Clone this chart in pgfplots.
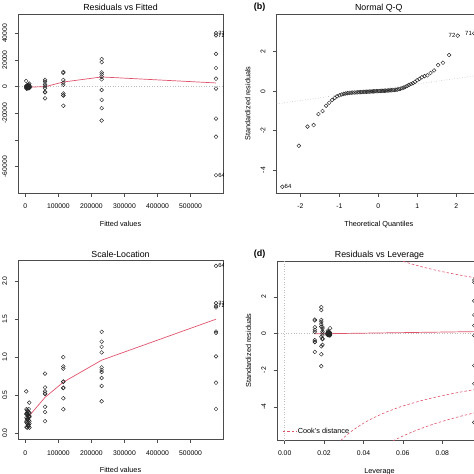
\documentclass[border=0pt]{standalone}
\usepackage{fontspec}
\setmainfont{Liberation Sans}
\usepackage{pgfplots}
\pgfplotsset{compat=1.18}
\definecolor{rred}{HTML}{DF536B}
\definecolor{rgray}{HTML}{BEBEBE}
\newcommand{\tickfont}{\fontsize{6.8}{7}\selectfont}
\newcommand{\labfont}{\fontsize{7.3}{8}\selectfont}
\newcommand{\titfont}{\fontsize{8.8}{9}\selectfont}
\newcommand{\ptfont}{\fontsize{6}{6}\selectfont}
\pgfplotsset{
  rdiag/.style={
    scale only axis, width=205pt, height=179.3pt, anchor=north west,
    scaled ticks=false,
    axis line style={line width=0.6pt, black!70},
    tick align=outside, major tick length=3.3pt,
    tick style={line width=0.5pt, black!70},
    xtick pos=bottom, ytick pos=left,
    /pgf/number format/assume math mode=true,
    xticklabel style={font=\tickfont, anchor=base, inner sep=0pt, yshift=-12.3pt},
    yticklabel style={font=\tickfont, inner sep=0pt, xshift=-7.65pt, rotate=90, anchor=base},
    every axis title/.style={font=\titfont, at={(0.5,1)}, anchor=base, yshift=3.3pt, inner sep=0pt},
    every axis x label/.style={at={(axis description cs:0.5,0)}, anchor=base, yshift=-33pt, font=\labfont, inner sep=0pt},
    every axis y label/.style={at={(axis description cs:-0.1268,0.5)}, rotate=90, anchor=base, font=\labfont, inner sep=0pt},
  },
  pts/.style={only marks, mark=o, mark size=1.9pt, mark options={line width=0.45pt, draw=black!85}, black!85},
  smo/.style={no marks, rred, line width=0.7pt},
  refl/.style={no marks, rgray, dotted, line width=0.6pt},
  cook/.style={no marks, rred, line width=0.6pt, dash pattern=on 2.5pt off 2pt, smooth},
}
\begin{document}
\begin{tikzpicture}
\useasboundingbox (0pt,0pt) rectangle (474pt,-474pt);
% ---------------- (a) Residuals vs Fitted
\begin{axis}[rdiag, at={(18pt,-14pt)},
  xmin=-22100, xmax=598200, ymin=-79950, ymax=54500,
  xtick={0,100000,200000,300000,400000,500000},
  xticklabels={0,100000,200000,300000,400000,500000},
  ytick={-60000,-40000,-20000,0,20000,40000},
  yticklabels={-60000,{},-20000,0,20000,40000},
  title={Residuals vs Fitted}, xlabel={Fitted values}]
\addplot[refl] coordinates {(-50000,0) (700000,0)};
\addplot[pts] coordinates {
(3500,-1426) (5700,-1283) (8000,-1141) (10300,-1070) (12600,-998)
(3500,-927) (5700,-856) (8000,-784) (10300,-713) (12600,-642)
(3500,-570) (5700,-513) (8000,-456) (10300,-399) (12600,-342)
(3500,-285) (5700,-228) (8000,-171) (10300,-114) (12600,-71)
(3500,86) (5700,71) (8000,114) (10300,171) (12600,228)
(3500,357) (5700,428) (8000,499) (10300,642) (12600,713)
(3500,856) (5700,998) (8000,1141) (10300,1426)
(2800,4280) (12000,2280)
(59700,5140) (59700,3800) (59700,1710) (59700,340) (59700,-1085) (59700,-3850) (59700,-4280) (59700,-8750)
(115000,11000) (115000,10300) (115000,5000) (115000,3000) (115000,1400) (115000,-5100) (115000,-6500) (115000,-6600) (115000,-14300)
(231000,20700) (231000,18400) (231000,10700) (231000,9250) (231000,7500) (231000,5500) (231000,-2500) (231000,-9900) (231000,-16100) (231000,-25400)
(577000,40100) (577000,38500) (577000,24600) (577000,14000) (577000,6000) (577000,-1400) (577000,-23900) (577000,-37500) (577000,-66400)
};
\addplot[smo] coordinates {(3500,-400) (5700,-380) (8000,-350) (10300,-320) (12600,-300) (59700,0) (115000,3500) (231000,7300) (577000,2800)};
\node[anchor=west, font=\ptfont, inner sep=0pt, xshift=2.2pt] at (axis cs:577000,40100) {71};
\node[anchor=west, font=\ptfont, inner sep=0pt, xshift=2.2pt] at (axis cs:577000,38500) {72};
\node[anchor=west, font=\ptfont, inner sep=0pt, xshift=2.2pt] at (axis cs:577000,-66400) {64};
\end{axis}
% ---------------- (b) Normal Q-Q
\begin{axis}[rdiag, at={(276.3pt,-14pt)},
  xmin=-2.615, xmax=2.641, ymin=-5.18, ymax=3.91,
  xtick={-2,-1,0,1,2}, xticklabels={-2,-1,0,1,2},
  ytick={-4,-2,0,2}, yticklabels={-4,-2,0,2},
  title={Normal Q-Q}, xlabel={Theoretical Quantiles}, ylabel={Standardized residuals}]
\addplot[refl] coordinates {(-3,-0.757) (3,0.923)};
\addplot[pts] coordinates {
(-2.460,-4.85) (-2.037,-2.77) (-1.815,-1.80) (-1.658,-1.72) (-1.534,-1.16) (-1.430,-1.01)
(-1.339,-0.74) (-1.258,-0.59) (-1.184,-0.45) (-1.117,-0.34) (-1.055,-0.26) (-0.996,-0.21)
(-0.940,-0.17) (-0.887,-0.14) (-0.837,-0.12) (-0.788,-0.10) (-0.742,-0.09) (-0.697,-0.08)
(-0.653,-0.075) (-0.610,-0.07) (-0.569,-0.065) (-0.528,-0.06) (-0.489,-0.055) (-0.450,-0.05)
(-0.412,-0.045) (-0.374,-0.04) (-0.337,-0.036) (-0.300,-0.032) (-0.264,-0.028) (-0.228,-0.024)
(-0.192,-0.02) (-0.157,-0.016) (-0.122,-0.012) (-0.087,-0.008) (-0.052,-0.004) (-0.017,0.0)
(0.017,0.004) (0.052,0.008) (0.087,0.012) (0.122,0.016) (0.157,0.02) (0.192,0.025)
(0.228,0.03) (0.264,0.035) (0.300,0.04) (0.337,0.045) (0.374,0.05) (0.412,0.06)
(0.450,0.07) (0.489,0.08) (0.528,0.10) (0.569,0.12) (0.610,0.15) (0.653,0.18)
(0.697,0.22) (0.742,0.27) (0.788,0.32) (0.837,0.36) (0.887,0.40) (0.940,0.47)
(0.996,0.55) (1.055,0.62) (1.117,0.70) (1.184,0.76) (1.258,0.80) (1.339,0.92)
(1.430,1.05) (1.534,1.32) (1.658,1.44) (1.815,1.83) (2.037,2.81) (2.460,2.93)
};
\node[anchor=west, font=\ptfont, inner sep=0pt, xshift=2.2pt] at (axis cs:-2.460,-4.85) {64};
\node[anchor=east, font=\ptfont, inner sep=0pt, xshift=-2.2pt] at (axis cs:2.037,2.81) {72};
\node[anchor=east, font=\ptfont, inner sep=0pt, xshift=-2.2pt] at (axis cs:2.460,2.93) {71};
\end{axis}
% ---------------- (c) Scale-Location
\begin{axis}[rdiag, at={(18pt,-260.3pt)},
  xmin=-22100, xmax=598200, ymin=-0.087, ymax=2.276,
  xtick={0,100000,200000,300000,400000,500000},
  xticklabels={0,100000,200000,300000,400000,500000},
  ytick={0,0.5,1,1.5,2}, yticklabels={0.0,0.5,1.0,1.5,2.0},
  title={Scale-Location}, xlabel={Fitted values}]
\addplot[pts] coordinates {
(3500,0.316) (5700,0.300) (8000,0.283) (10300,0.274) (12600,0.265)
(3500,0.255) (5700,0.245) (8000,0.235) (10300,0.224) (12600,0.212)
(3500,0.200) (5700,0.190) (8000,0.179) (10300,0.167) (12600,0.155)
(3500,0.141) (5700,0.126) (8000,0.110) (10300,0.089) (12600,0.071)
(3500,0.077) (5700,0.071) (8000,0.089) (10300,0.110) (12600,0.126)
(3500,0.158) (5700,0.173) (8000,0.187) (10300,0.212) (12600,0.224)
(3500,0.245) (5700,0.265) (8000,0.283) (10300,0.316)
(2800,0.548) (12000,0.400)
(59700,0.600) (59700,0.516) (59700,0.346) (59700,0.155) (59700,0.276) (59700,0.520) (59700,0.548) (59700,0.783)
(115000,0.877) (115000,0.848) (115000,0.591) (115000,0.458) (115000,0.313) (115000,0.597) (115000,0.674) (115000,0.679) (115000,1.000)
(231000,1.204) (231000,1.135) (231000,0.865) (231000,0.804) (231000,0.725) (231000,0.620) (231000,0.418) (231000,0.832) (231000,1.062) (231000,1.333)
(577000,1.712) (577000,1.676) (577000,1.338) (577000,1.010) (577000,0.663) (577000,0.316) (577000,1.319) (577000,1.655) (577000,2.202)
};
\addplot[smo] coordinates {(3500,0.21) (5700,0.215) (8000,0.22) (10300,0.225) (12600,0.23) (59700,0.47) (115000,0.67) (231000,0.96) (577000,1.50)};
\node[anchor=west, font=\ptfont, inner sep=0pt, xshift=2.2pt] at (axis cs:577000,2.202) {64};
\node[anchor=west, font=\ptfont, inner sep=0pt, xshift=2.2pt] at (axis cs:577000,1.712) {71};
\node[anchor=west, font=\ptfont, inner sep=0pt, xshift=2.2pt] at (axis cs:577000,1.676) {72};
\end{axis}
% ---------------- (d) Residuals vs Leverage
\begin{axis}[rdiag, at={(277pt,-261pt)},
  xmin=-0.0039, xmax=0.1002, ymin=-5.83, ymax=3.97,
  xtick={0,0.02,0.04,0.06,0.08,0.1}, xticklabels={0.00,0.02,0.04,0.06,0.08,{}},
  ytick={-4,-2,0,2}, yticklabels={-4,-2,0,2},
  title={Residuals vs Leverage}, xlabel={Leverage}, ylabel={Standardized residuals},
  legend style={at={(axis description cs:0,0)}, anchor=south west, draw=none, fill=none,
    font=\labfont, inner xsep=0pt, inner ysep=0pt, xshift=5pt, yshift=4.5pt,
    nodes={inner sep=1pt}},
  legend cell align=left,
  legend image code/.code={\draw[rred, line width=0.6pt, dash pattern=on 2.5pt off 2pt] (0pt,0pt) -- (14pt,0pt);}]
\addplot[refl, forget plot] coordinates {(-0.01,0) (0.12,0)};
\addplot[refl, forget plot] coordinates {(0,-7) (0,5)};
\addplot[pts, forget plot] coordinates {
(0.0230,-0.10) (0.0227,-0.09) (0.0224,-0.08) (0.0221,-0.075) (0.0218,-0.07)
(0.0230,-0.065) (0.0227,-0.06) (0.0224,-0.055) (0.0221,-0.05) (0.0218,-0.045)
(0.0230,-0.04) (0.0227,-0.036) (0.0224,-0.032) (0.0221,-0.028) (0.0218,-0.024)
(0.0230,-0.02) (0.0227,-0.016) (0.0224,-0.012) (0.0221,-0.008) (0.0218,-0.005)
(0.0230,0.006) (0.0227,0.005) (0.0224,0.008) (0.0221,0.012) (0.0218,0.016)
(0.0230,0.025) (0.0227,0.03) (0.0224,0.035) (0.0221,0.045) (0.0218,0.05)
(0.0230,0.06) (0.0227,0.07) (0.0224,0.08) (0.0221,0.10)
(0.0231,0.30) (0.0219,0.16)
(0.0192,0.36) (0.0192,0.266) (0.0192,0.12) (0.0192,0.024) (0.0192,-0.076) (0.0192,-0.27) (0.0192,-0.30) (0.0192,-0.613)
(0.0153,0.769) (0.0153,0.720) (0.0153,0.349) (0.0153,0.210) (0.0153,0.098) (0.0153,-0.356) (0.0153,-0.454) (0.0153,-0.461) (0.0153,-0.999)
(0.0186,1.449) (0.0186,1.288) (0.0186,0.749) (0.0186,0.647) (0.0186,0.525) (0.0186,0.385) (0.0186,-0.175) (0.0186,-0.693) (0.0186,-1.127) (0.0186,-1.777)
(0.0963,2.93) (0.0963,2.81) (0.0963,1.79) (0.0963,1.02) (0.0963,0.44) (0.0963,-0.10) (0.0963,-1.74) (0.0963,-2.74) (0.0963,-4.85)
};
\addplot[smo, forget plot] coordinates {(0.0153,0.0) (0.0186,-0.01) (0.0192,-0.01) (0.0218,0.0) (0.0231,0.0) (0.0963,0.11)};
\addplot[cook] coordinates {(0.027,-6.03) (0.028,-5.892) (0.030,-5.686) (0.032,-5.5) (0.035,-5.251) (0.040,-4.899) (0.045,-4.607) (0.050,-4.359) (0.055,-4.145) (0.060,-3.958) (0.070,-3.645) (0.080,-3.391) (0.090,-3.180) (0.100,-3.0) (0.102,-2.967)};
\addlegendentry{Cook's distance}
\addplot[cook, forget plot] coordinates {(0.058,4.03) (0.060,3.958) (0.065,3.793) (0.070,3.645) (0.075,3.512) (0.080,3.391) (0.085,3.281) (0.090,3.180) (0.095,3.087) (0.100,3.0) (0.102,2.967)};
\addplot[cook, forget plot] coordinates {(0.053,-5.99) (0.054,-5.919) (0.056,-5.806) (0.060,-5.598) (0.065,-5.364) (0.070,-5.155) (0.075,-4.967) (0.080,-4.796) (0.085,-4.640) (0.090,-4.497) (0.095,-4.365) (0.100,-4.243) (0.102,-4.196)};
\end{axis}
\node[font=\bfseries\fontsize{9}{9}\selectfont, anchor=base] at (259.5pt,-9.5pt) {(b)};
\node[font=\bfseries\fontsize{9}{9}\selectfont, anchor=base] at (259.5pt,-256.3pt) {(d)};
\end{tikzpicture}
\end{document}
